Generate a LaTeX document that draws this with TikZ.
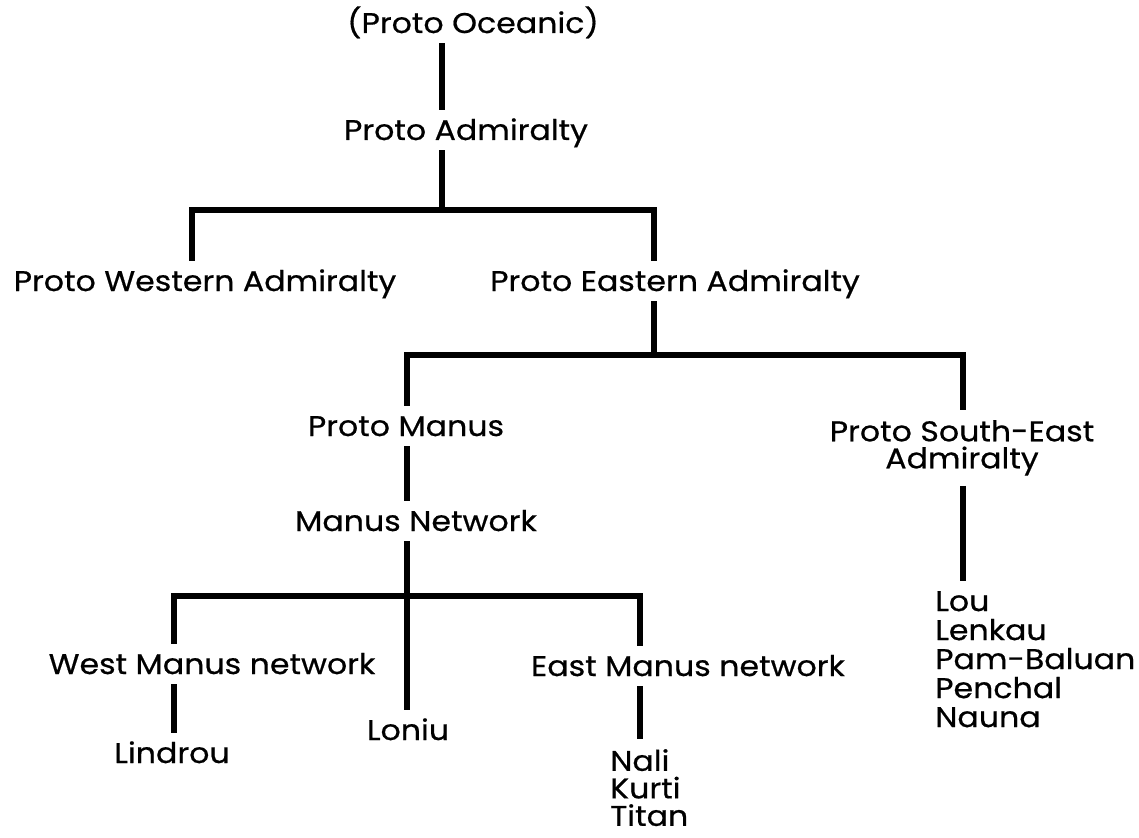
\documentclass[tikz,border=0pt]{standalone}
\usepackage{fontspec}
\setmainfont{Poppins}[FakeStretch=1.11, FakeBold=0.6]
\usetikzlibrary{calc}
\tikzset{
  lang/.style={anchor=base, inner xsep=0pt, inner ysep=10pt, text height=20pt, text depth=0pt},
  langs/.style={inner xsep=0pt, inner ysep=10pt},
  branch/.style={line width=6.5pt, line join=miter},
  every picture/.style={/utils/exec={\fontsize{28.5}{27}\selectfont}}
}

\begin{document}
\begin{tikzpicture}[x=1pt, y=-1pt]
  \useasboundingbox (0,0) rectangle (1139,837);

  \node [lang] (oce) at (473,33) {(Proto Oceanic)};
  \node [lang] (pa) at (466,140) {Proto Admiralty};
  \node [lang] (pwa) at (205,291) {Proto Western Admiralty};
  \node [lang] (pea) at (675,291) {Proto Eastern Admiralty};
  \node [lang] (pm) at (406,436) {Proto Manus};
  \node [langs, anchor=north, align=center] (pse) at (962,410) {Proto South-East\\Admiralty};
  \node [lang] (mn) at (416,531) {Manus Network};
  \node [lang] (wmn) at (212,674) {West Manus network};
  \node [lang] (emn) at (688,676) {East Manus network};
  \node [lang] (loniu) at (408,740) {Loniu};
  \node [lang] (lindrou) at (172,763) {Lindrou};
  \node [langs, anchor=north west, align=left, font=\fontsize{28.5}{27.5}\selectfont] (nkt) at (610,739) {Nali\\Kurti\\Titan};
  \node [langs, anchor=north west, align=left, font=\fontsize{28.5}{29}\selectfont] (lou) at (935,581) {Lou\\Lenkau\\Pam-Baluan\\Penchal\\Nauna};

  \coordinate (b1) at (442,210);
  \coordinate (b1w) at (192,210);
  \coordinate (b1e) at (654,210);
  \coordinate (b2w) at (407,355);
  \coordinate (b2e) at (963,355);
  \coordinate (b3) at (407,596);
  \coordinate (b3w) at (174,596);
  \coordinate (b3e) at (640,596);

  \draw [branch] (oce.south -| b1) -- (pa.north -| b1);
  \draw [branch] (pa.south -| b1) -- (b1);
  \draw [branch] (pwa.north -| b1w) -- (b1w) -- (b1e) -- (pea.north -| b1e);
  \draw [branch] (pea.south -| b1e) -- (b1e |- b2w);
  \draw [branch] (pm.north -| b2w) -- (b2w) -- (b2e) -- (pse.north -| b2e);
  \draw [branch] (pm.south -| b2w) -- (mn.north -| b2w);
  \draw [branch] (pse.south -| b2e) -- (lou.north -| b2e);
  \draw [branch] (mn.south -| b3) -- (loniu.north -| b3);
  \draw [branch] (wmn.north -| b3w) -- (b3w) -- (b3e) -- (emn.north -| b3e);
  \draw [branch] (wmn.south -| b3w) -- (lindrou.north -| b3w);
  \draw [branch] (emn.south -| b3e) -- (nkt.north -| b3e);

\end{tikzpicture}
\end{document}
